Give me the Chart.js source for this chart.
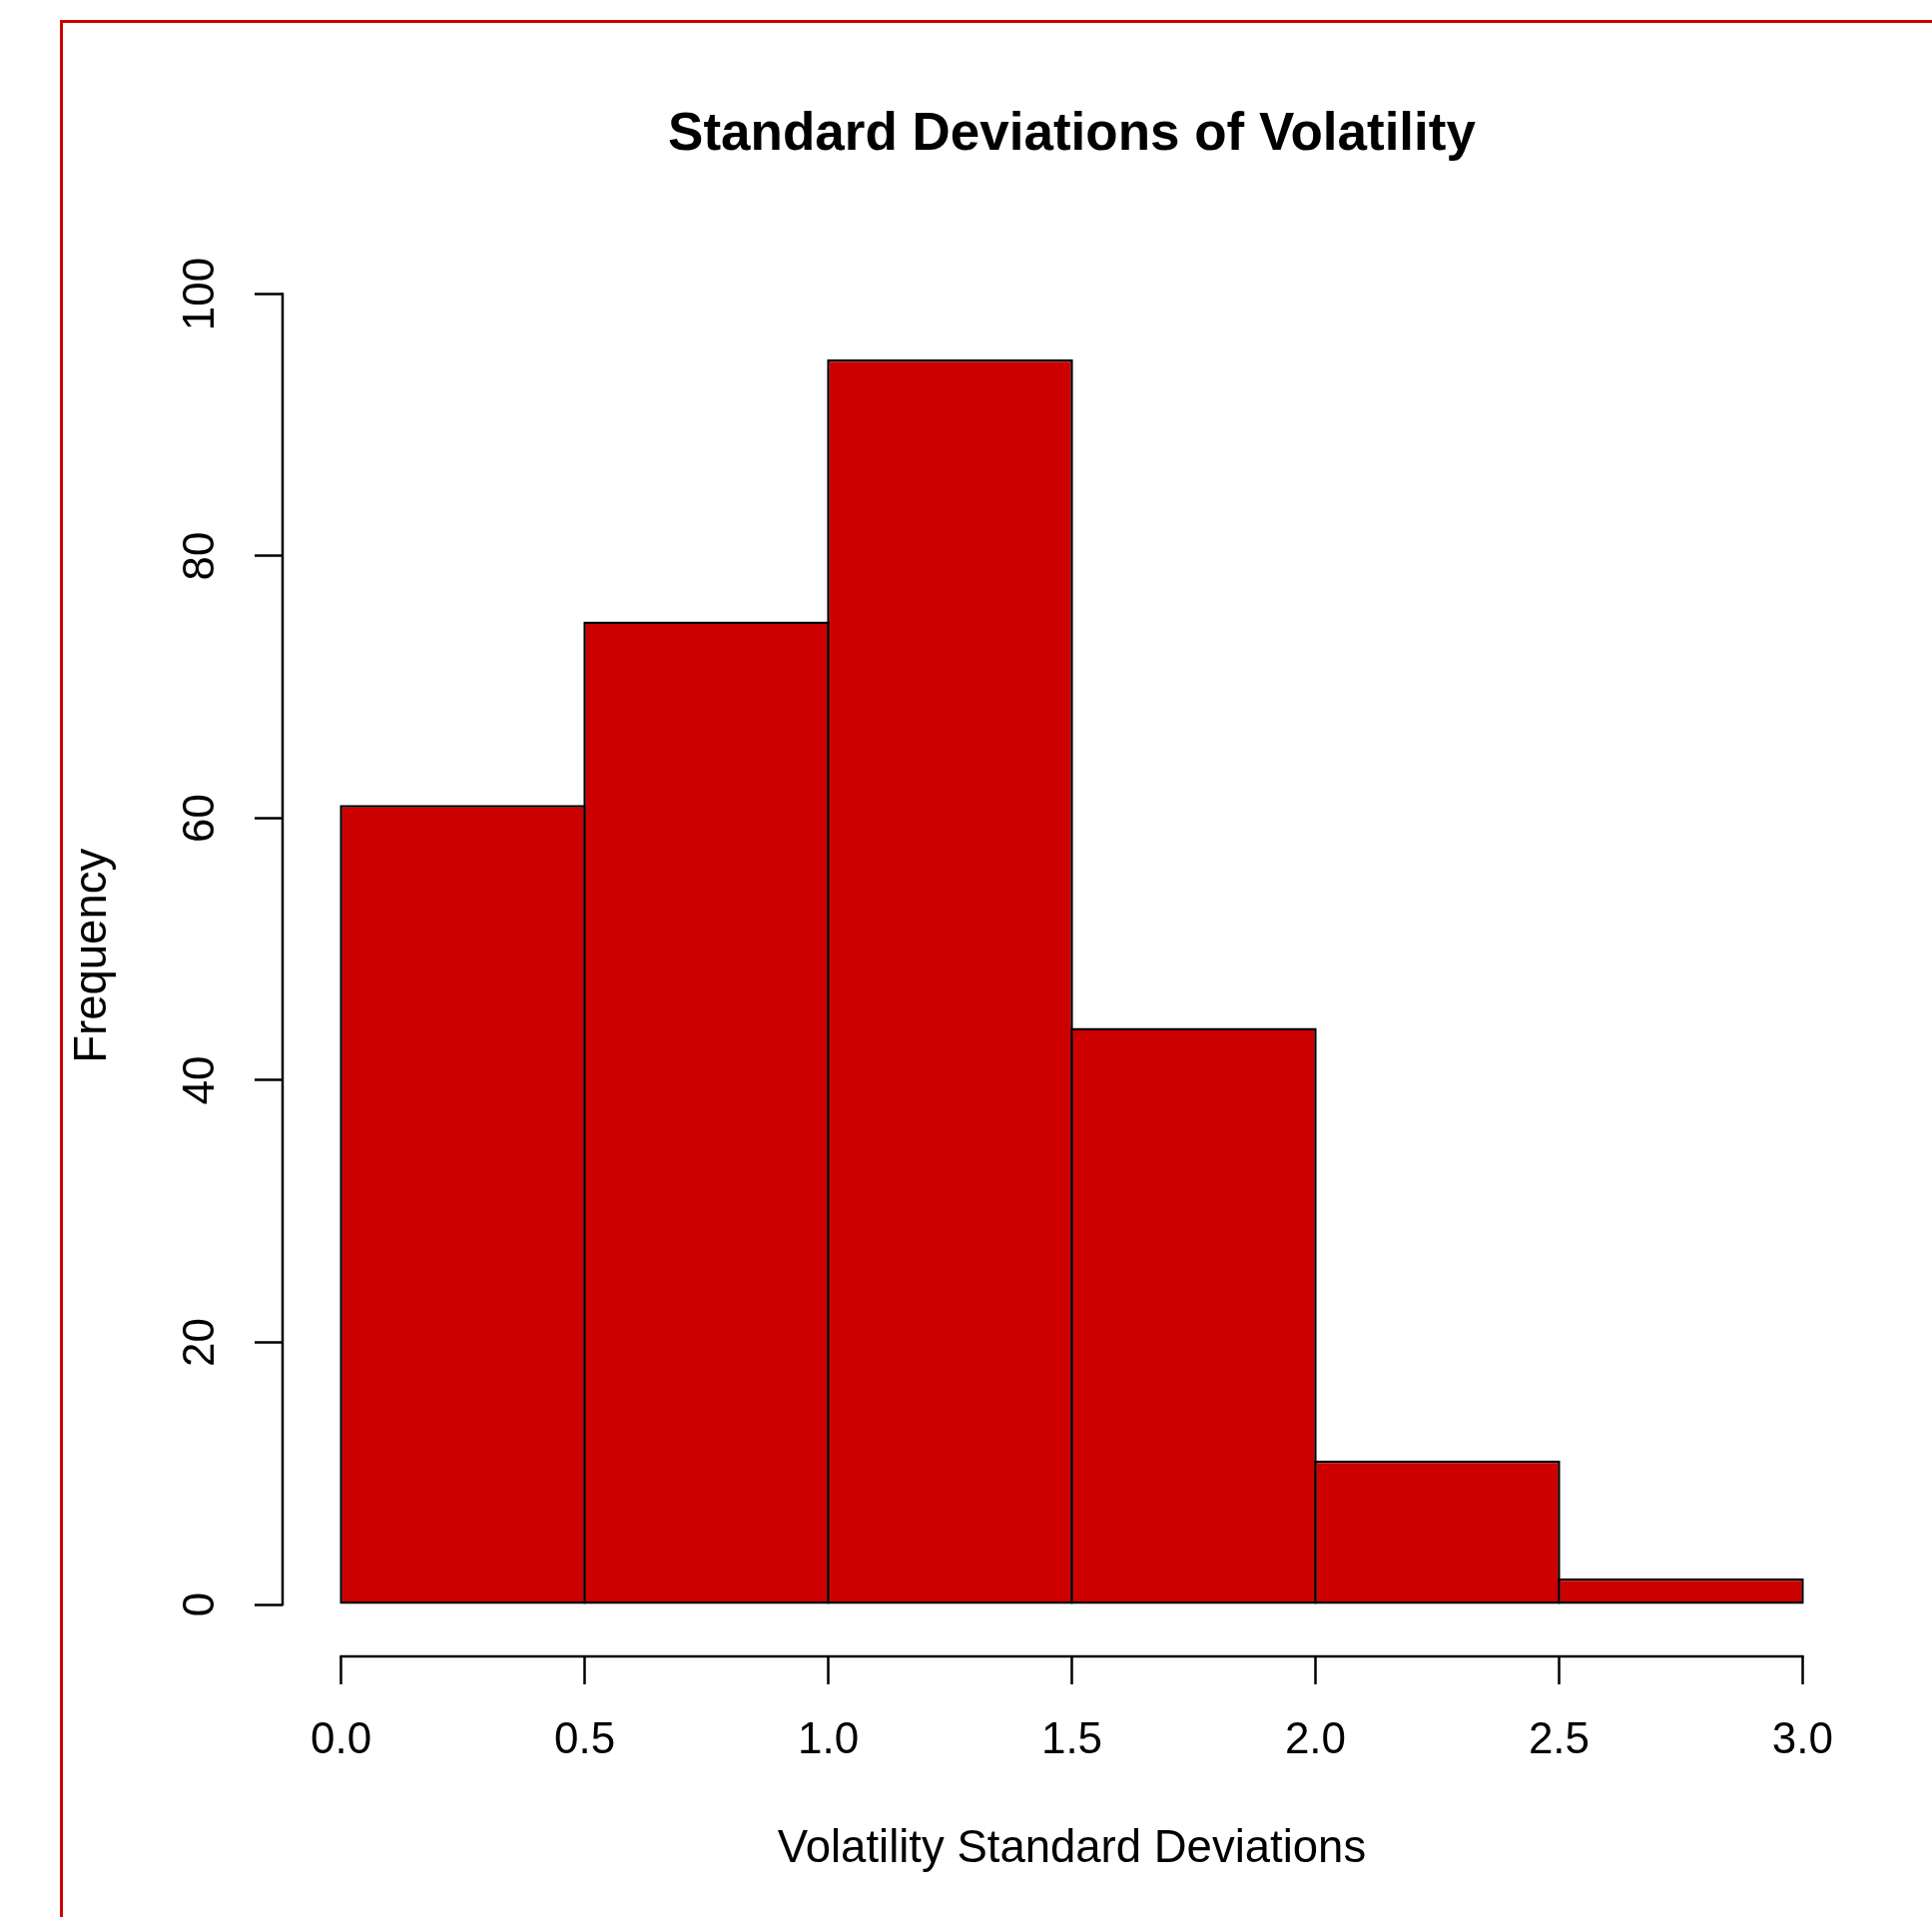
<!DOCTYPE html>
<html>
<head>
<meta charset="utf-8">
<title>Standard Deviations of Volatility</title>
<script src="https://cdn.jsdelivr.net/npm/chart.js@4/dist/chart.umd.min.js"></script>
<style>
  html, body { margin: 0; padding: 0; background: #fff; }
  #hist { display: block; }
</style>
</head>
<body>
<canvas id="hist" width="1935" height="1920"></canvas>
<script>
// histogram data
var binEdges = [0, 0.5, 1.0, 1.5, 2.0, 2.5, 3.0];
var counts = [61, 75, 95, 44, 11, 2];
var xTickValues = [0, 0.5, 1.0, 1.5, 2.0, 2.5, 3.0];
var xTickLabels = ['0.0', '0.5', '1.0', '1.5', '2.0', '2.5', '3.0'];
var yTickValues = [0, 20, 40, 60, 80, 100];
var yTickLabels = ['0', '20', '40', '60', '80', '100'];

var RED = '#CD0000';
var FONT = "'Liberation Sans', Arial, Helvetica, sans-serif";
var LW = 2.5;

Chart.defaults.color = '#000';
Chart.defaults.font.family = FONT;

// one point per bin, placed at the middle of the bin
var barData = [];
for (var i = 0; i < counts.length; i++) {
    barData.push({ x: (binEdges[i] + binEdges[i + 1]) / 2, y: counts[i] });
}

// R style axes: the axis line only runs from the first to the last tick,
// plus the red frame of the original figure
var rAxes = {
    id: 'rAxes',
    beforeDraw: function(chart) {
        var ctx = chart.ctx;
        ctx.save();
        ctx.strokeStyle = RED;
        ctx.lineWidth = 3;
        ctx.beginPath();
        ctx.moveTo(61.5, chart.height);
        ctx.lineTo(61.5, 21.5);
        ctx.lineTo(chart.width, 21.5);
        ctx.stroke();
        ctx.restore();
    },
    afterDraw: function(chart) {
        var ctx = chart.ctx;
        var area = chart.chartArea;
        var x = chart.scales.x, y = chart.scales.y;
        ctx.save();
        ctx.strokeStyle = '#000';
        ctx.lineWidth = LW;
        ctx.lineCap = 'square';
        ctx.beginPath();
        ctx.moveTo(area.left, y.getPixelForValue(yTickValues[0]));
        ctx.lineTo(area.left, y.getPixelForValue(yTickValues[yTickValues.length - 1]));
        ctx.moveTo(x.getPixelForValue(xTickValues[0]), area.bottom);
        ctx.lineTo(x.getPixelForValue(xTickValues[xTickValues.length - 1]), area.bottom);
        ctx.stroke();
        ctx.restore();
    }
};

var ctx = document.getElementById('hist');
var hist = new Chart(ctx, {
    type: 'bar',
    data: {
        datasets: [{
            data: barData,
            backgroundColor: RED,
            borderColor: '#000',
            borderWidth: LW,
            borderSkipped: false,
            categoryPercentage: 1,
            barPercentage: (244 + LW) / 244   // neighbours share one edge line
        }]
    },
    options: {
        responsive: false,
        animation: false,
        devicePixelRatio: 1,
        layout: {
            padding: { left: 0, top: 20, right: 71, bottom: 0 }
        },
        plugins: {
            legend: { display: false },
            tooltip: { enabled: false },
            title: {
                display: true,
                fullSize: false,
                text: 'Standard Deviations of Volatility',
                color: '#000',
                font: { size: 53, weight: 'bold', family: FONT },
                padding: { top: 84, bottom: 88 }
            }
        },
        scales: {
            x: {
                type: 'linear',
                min: -0.12,
                max: 3.12,
                offset: false,
                afterBuildTicks: function(scale) {
                    scale.ticks = xTickValues.map(function(v) { return { value: v }; });
                },
                afterFit: function(scale) { scale.height = 261; },
                ticks: {
                    padding: 30,
                    maxRotation: 0,
                    autoSkip: false,
                    font: { size: 44 },
                    callback: function(value, index) { return xTickLabels[index]; }
                },
                grid: {
                    offset: false,
                    drawOnChartArea: false,
                    tickLength: 28,
                    tickWidth: LW,
                    tickColor: '#000'
                },
                border: { display: false },
                title: {
                    display: true,
                    text: 'Volatility Standard Deviations',
                    font: { size: 45.5 },
                    padding: { top: 0, bottom: 40 }
                }
            },
            y: {
                type: 'linear',
                min: -3.96,
                max: 102.96,
                afterBuildTicks: function(scale) {
                    scale.ticks = yTickValues.map(function(v) { return { value: v }; });
                },
                afterFit: function(scale) { scale.width = 283; },
                ticks: {
                    padding: 16,
                    minRotation: 90,
                    maxRotation: 90,
                    crossAlign: 'center',
                    font: { size: 44 },
                    callback: function(value, index) { return yTickLabels[index]; }
                },
                grid: {
                    drawOnChartArea: false,
                    tickLength: 28,
                    tickWidth: LW,
                    tickColor: '#000'
                },
                border: { display: false },
                title: {
                    display: true,
                    text: 'Frequency',
                    font: { size: 45.5 },
                    padding: { top: 66, bottom: 0 }
                }
            }
        }
    },
    plugins: [rAxes]
});
</script>
</body>
</html>
